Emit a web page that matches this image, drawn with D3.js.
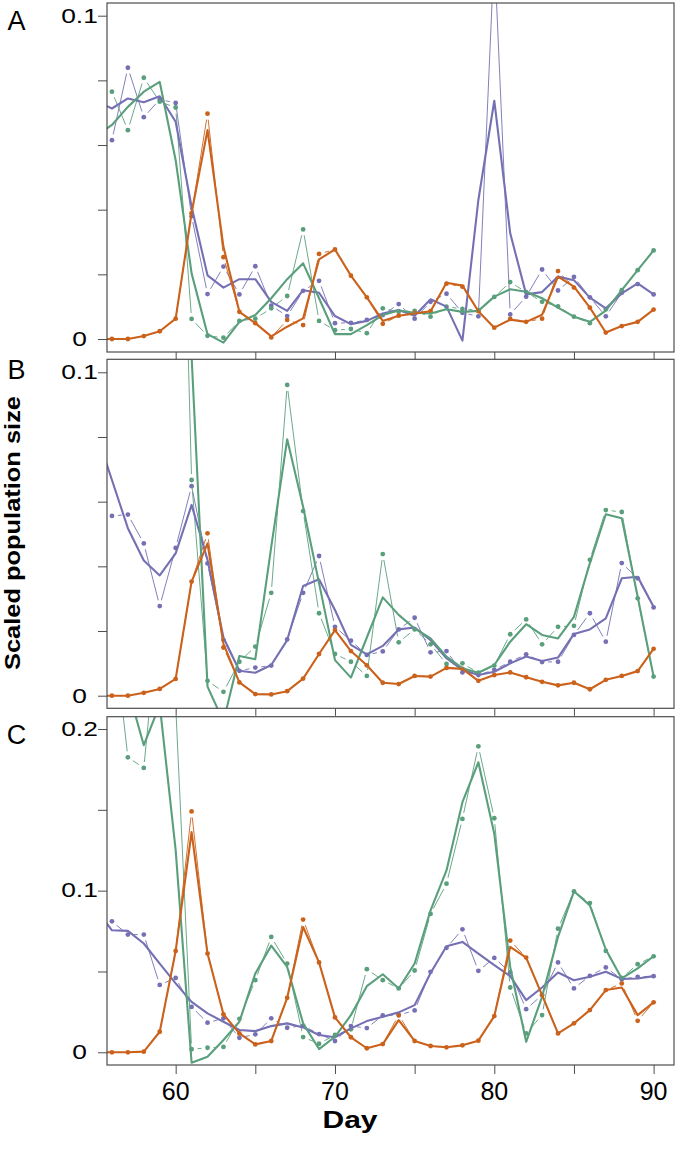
<!DOCTYPE html>
<html><head><meta charset="utf-8">
<script src="https://cdn.jsdelivr.net/npm/d3@7"></script>
<style>
html,body{margin:0;padding:0;background:#fff;}
svg{display:block;}
text{font-family:"Liberation Sans",Arial,Helvetica,sans-serif;fill:#000;}
</style></head><body>
<script>
// ---------- DATA ----------
const days = [56,57,58,59,60,61,62,63,64,65,66,67,68,69,70,71,72,73,74,75,76,77,78,79,80,81,82,83,84,85,86,87,88,89,90];
const fitDays = [55].concat(days);
const xTicks = [60,65,70,75,80,85,90];
const xTickLabels = ["60","","70","","80","","90"];
const panelLetters = ["A","B","C"];

// Panel A
const A_purple_obs = [0.0615,0.0839,0.0686,0.0741,0.073,0.038,0.0139,0.0224,0.0138,0.0225,0.0103,0.0071,0.0149,0.018,0.0049,0.005,0.0059,0.0074,0.0108,0.0063,0.0115,0.014,0.0081,0.007,0.12,0.0076,0.0131,0.0215,0.015,0.0192,0.0129,0.007,0.0143,0.017,0.0138];
const A_purple_fit = [0.0737,0.0713,0.0744,0.0732,0.0751,0.0672,0.0409,0.0197,0.0159,0.0185,0.0185,0.0115,0.0087,0.0151,0.0143,0.0071,0.0046,0.0056,0.0079,0.009,0.0072,0.0123,0.01,-0.0005,0.043,0.0737,0.0327,0.0138,0.0145,0.0193,0.0182,0.0128,0.0095,0.0141,0.0172,0.0138];
const A_green_obs = [0.0765,0.0646,0.0808,0.0734,0.0716,0.0062,0.001,0.0004,0.0056,0.0063,0.0095,0.0133,0.0339,0.0056,0.0027,0.0031,0.0018,0.0095,0.0084,0.0087,0.0069,0.01,0.0093,0.0089,0.013,0.0176,0.0145,0.0115,0.0101,0.0069,0.0049,0.0092,0.0151,0.0213,0.0274];
const A_green_fit = [0.0628,0.0662,0.0718,0.0765,0.0795,0.0553,0.0203,0.0015,-0.0011,0.0053,0.0074,0.0126,0.0185,0.0234,0.0126,0.0015,0.0015,0.0043,0.0074,0.0088,0.0081,0.0079,0.0092,0.0084,0.0087,0.0131,0.0154,0.0146,0.0126,0.0097,0.0069,0.0053,0.0088,0.0151,0.0213,0.0274];
const A_orange_obs = [0,0,0.0009,0.0024,0.0063,0.0389,0.0697,0.0253,0.0084,0.0049,0.0005,0.0059,0.0043,0.0263,0.0277,0.0196,0.0129,0.0047,0.0072,0.0081,0.0086,0.0171,0.0162,0.0086,0.0035,0.0062,0.0053,0.0063,0.021,0.0159,0.0097,0.002,0.004,0.0053,0.0091];
const A_orange_fit = [0,0,0,0.0009,0.0024,0.0063,0.039,0.0646,0.0285,0.0084,0.0049,0.0008,0.0038,0.0064,0.0246,0.0277,0.0196,0.0129,0.0056,0.0072,0.0079,0.0086,0.0174,0.0165,0.0086,0.0035,0.006,0.0053,0.0075,0.0193,0.0162,0.0097,0.002,0.004,0.0053,0.0091];

// Panel B
const B_purple_obs = [0.0556,0.056,0.0471,0.0277,0.0457,0.0648,0.0409,0.0172,0.0077,0.0087,0.0093,0.0174,0.0318,0.0432,0.0213,0.017,0.0126,0.0137,0.0205,0.0241,0.0134,0.0138,0.0072,0.0064,0.008,0.0105,0.0128,0.0104,0.0105,0.0188,0.0255,0.0167,0.041,0.0363,0.0273];
const B_purple_fit = [0.0816,0.0667,0.0518,0.0418,0.0372,0.044,0.059,0.042,0.018,0.0077,0.0071,0.0095,0.0172,0.0339,0.036,0.0265,0.0157,0.0128,0.0154,0.0205,0.0211,0.0172,0.0116,0.008,0.0064,0.0074,0.01,0.0121,0.0107,0.0118,0.0191,0.0205,0.0239,0.0363,0.0368,0.0275];
const B_green_obs = [0.2,0.18,0.17,0.21,0.25,0.0667,0.0046,0.0012,0.0105,0.0152,0.0318,0.0961,0.0571,0.0255,0.0129,0.0105,0.0061,0.0438,0.0165,0.0205,0.0159,0.0098,0.01,0.0071,0.0093,0.019,0.0236,0.0159,0.0213,0.0216,0.042,0.0574,0.0568,0.0301,0.0059];
const B_green_fit = [0.2,0.2,0.21,0.19,0.21,0.25,0.105,0.0028,-0.008,0.0123,0.0113,0.046,0.0793,0.0584,0.0348,0.011,0.0056,0.018,0.0304,0.025,0.0208,0.0177,0.0121,0.0085,0.0071,0.0095,0.0167,0.0221,0.0188,0.0177,0.0244,0.041,0.0561,0.0549,0.0306,0.0059];
const B_orange_obs = [0,0,0.0009,0.0021,0.0052,0.0353,0.0502,0.0149,0.0041,0.0005,0.0004,0.0014,0.0053,0.0129,0.0203,0.0138,0.0094,0.004,0.0036,0.0061,0.0059,0.0086,0.0083,0.0046,0.0064,0.0072,0.0057,0.0043,0.0032,0.004,0.002,0.0049,0.0061,0.0076,0.0145];
const B_orange_fit = [0,0,0,0.0009,0.0021,0.0052,0.0353,0.0471,0.016,0.0041,0.0005,0.0004,0.0014,0.0053,0.0129,0.0203,0.0138,0.0094,0.004,0.0036,0.0061,0.0059,0.0086,0.0083,0.0046,0.0064,0.0072,0.0057,0.0043,0.0032,0.004,0.002,0.0049,0.0061,0.0076,0.0145];

// Panel C
const C_purple_obs = [0.081,0.0728,0.0728,0.0417,0.046,0.0281,0.0183,0.021,0.009,0.0111,0.021,0.0152,0.0164,0.0113,0.007,0.0162,0.015,0.0228,0.023,0.0259,0.0498,0.0646,0.0761,0.0504,0.0584,0.0494,0.0267,0.0354,0.0556,0.0395,0.0473,0.0525,0.0452,0.0467,0.0471];
const C_purple_fit = [0.0887,0.0755,0.0751,0.0673,0.0549,0.0426,0.0312,0.0241,0.0189,0.0138,0.0131,0.0162,0.0179,0.0154,0.0107,0.0093,0.0148,0.0193,0.022,0.0247,0.0292,0.0491,0.0656,0.0683,0.0611,0.0539,0.0471,0.0323,0.0401,0.0494,0.0446,0.0467,0.0498,0.0454,0.0457,0.0471];
const C_green_obs = [0.27,0.1825,0.1759,0.277,0.215,0.0019,0.0028,0.0033,0.0207,0.0446,0.0714,0.0549,0.0094,0.0053,0.0107,0.0142,0.0514,0.0446,0.0395,0.0506,0.0856,0.1043,0.1444,0.1893,0.1448,0.0401,0.0117,0.023,0.0765,0.0996,0.0923,0.0627,0.046,0.0545,0.0594];
const C_green_fit = [0.198,0.215,0.225,0.19,0.215,0.125,-0.0064,-0.0027,0.0076,0.0189,0.0488,0.066,0.0528,0.0179,0.002,0.0096,0.023,0.0409,0.0483,0.0395,0.0549,0.0878,0.1125,0.1547,0.1794,0.1352,0.0528,0.0065,0.0343,0.0714,0.0996,0.0909,0.0636,0.0457,0.0519,0.0594];
const C_orange_obs = [0,0,0.0004,0.0127,0.0627,0.149,0.0611,0.0235,0.0117,0.0049,0.007,0.0337,0.0821,0.0556,0.0216,0.0093,0.0025,0.0051,0.023,0.007,0.0039,0.0031,0.0043,0.0072,0.0224,0.0691,0.0586,0.0354,0.0117,0.0179,0.0261,0.0385,0.0426,0.0195,0.0309];
const C_orange_fit = [0,0,0,0.0004,0.0127,0.0627,0.1362,0.0611,0.0235,0.0117,0.0049,0.007,0.0337,0.0775,0.0556,0.0216,0.0093,0.0025,0.0051,0.0199,0.007,0.0039,0.0031,0.0043,0.0072,0.0224,0.0652,0.0586,0.0354,0.0117,0.0179,0.0261,0.0385,0.0401,0.023,0.0309];

const yTicksA = [0,0.02,0.04,0.06,0.08,0.1];
const yLabelsA = ["0","","","","","0.1"];
const yTicksC = [0,0.05,0.1,0.15,0.2];
const yLabelsC = ["0","","0.1","","0.2"];

const colors = {purple:"#7570b3", green:"#5a9f7c", orange:"#cb621c"};

// ---------- LAYOUT ----------
const W = 677, H = 1160;
const svg = d3.select("body").append("svg").attr("width",W).attr("height",H);
const plotL = 107, plotR = 674;
const x = d3.scaleLinear().domain([55.69, 91.28]).range([plotL, plotR]);

const panels = [
  {letter:"A", top:3, bottom:352, y0:339, yTop:15.7, vTop:0.1, ticks:yTicksA, labels:yLabelsA, letterY:29.5,
   series:[["purple",A_purple_obs,A_purple_fit],["green",A_green_obs,A_green_fit],["orange",A_orange_obs,A_orange_fit]]},
  {letter:"B", top:359.3, bottom:708.3, y0:695.7, yTop:372.3, vTop:0.1, ticks:yTicksA, labels:yLabelsA, letterY:379,
   series:[["purple",B_purple_obs,B_purple_fit],["green",B_green_obs,B_green_fit],["orange",B_orange_obs,B_orange_fit]]},
  {letter:"C", top:716.7, bottom:1065, y0:1052.3, yTop:729, vTop:0.2, ticks:yTicksC, labels:yLabelsC, letterY:744,
   series:[["purple",C_purple_obs,C_purple_fit],["green",C_green_obs,C_green_fit],["orange",C_orange_obs,C_orange_fit]]}
];

const frameColor = "#4d4d4d";
const gap = 6;

panels.forEach((p, i) => {
  const y = d3.scaleLinear().domain([0, p.vTop]).range([p.y0, p.yTop]);
  const g = svg.append("g");
  const clipId = "clip" + i;
  svg.append("clipPath").attr("id", clipId).append("rect")
    .attr("x", plotL).attr("y", p.top).attr("width", plotR - plotL).attr("height", p.bottom - p.top);

  // y axis
  const yAxis = d3.axisLeft(y).tickValues(p.ticks).tickSize(9).tickFormat("");
  const ya = g.append("g").attr("transform", `translate(${plotL},0)`).call(yAxis);
  ya.select(".domain").remove();
  ya.selectAll("line").attr("stroke", frameColor).attr("stroke-width", 1);
  p.ticks.forEach((t, k) => {
    if (p.labels[k]) {
      g.append("text").attr("transform", `translate(79.5,${y(t) + 6.8}) scale(1.35,1)`)
        .attr("text-anchor","middle").attr("font-size", 19.5).text(p.labels[k]);
    }
  });

  // x ticks below panel
  const xAxis = d3.axisBottom(x).tickValues(xTicks).tickSize(i < 2 ? 7.5 : 9).tickFormat("");
  const xa = g.append("g").attr("transform", `translate(0,${p.bottom})`).call(xAxis);
  xa.select(".domain").remove();
  xa.selectAll("line").attr("stroke", frameColor).attr("stroke-width", 1);

  // panel letter
  g.append("text").attr("x", 16.5).attr("y", p.letterY).attr("text-anchor","middle")
    .attr("font-size", 27).text(p.letter);

  const plot = g.append("g").attr("clip-path", `url(#${clipId})`);

  p.series.forEach(([name, obs, fit]) => {
    const col = colors[name];
    const pts = days.map((d, k) => [x(d), y(obs[k])]);
    for (let k = 0; k < pts.length - 1; k++) {
      const [x1, y1] = pts[k], [x2, y2] = pts[k+1];
      const dx = x2 - x1, dy = y2 - y1, L = Math.hypot(dx, dy);
      if (L > 2 * gap) {
        const ux = dx / L, uy = dy / L;
        plot.append("line")
          .attr("x1", x1 + ux*gap).attr("y1", y1 + uy*gap)
          .attr("x2", x2 - ux*gap).attr("y2", y2 - uy*gap)
          .attr("stroke", col).attr("stroke-width", 0.9);
      }
    }
    plot.selectAll(null).data(obs).enter().append("circle")
      .attr("cx", (v, k) => x(days[k])).attr("cy", v => y(v)).attr("r", 2.4)
      .attr("fill", col);
  });
  p.series.forEach(([name, obs, fit]) => {
    const col = colors[name];
    const line = d3.line().x((v, k) => x(fitDays[k])).y(v => y(v));
    plot.append("path").datum(fit).attr("d", line).attr("fill","none")
      .attr("stroke", col).attr("stroke-width", 2.1).attr("stroke-linejoin","round");
  });

  // frame
  g.append("rect").attr("x", plotL).attr("y", p.top).attr("width", plotR - plotL)
    .attr("height", p.bottom - p.top).attr("fill","none").attr("stroke", frameColor).attr("stroke-width", 1.2);
});

// bottom x labels
xTicks.forEach((t, k) => {
  if (xTickLabels[k]) svg.append("text").attr("x", x(t)).attr("y", 1100).attr("text-anchor","middle")
    .attr("font-size", 25).text(xTickLabels[k]);
});
svg.append("text").attr("x", 350).attr("y", 1128).attr("text-anchor","middle")
  .attr("font-size", 24).attr("font-weight","bold").attr("textLength", 55)
  .attr("lengthAdjust","spacingAndGlyphs").text("Day");
svg.append("text").attr("transform", "translate(19.5,533) rotate(-90)").attr("text-anchor","middle")
  .attr("font-size", 22).attr("font-weight","bold").attr("textLength", 274)
  .attr("lengthAdjust","spacingAndGlyphs").text("Scaled population size");
</script>
</body></html>
